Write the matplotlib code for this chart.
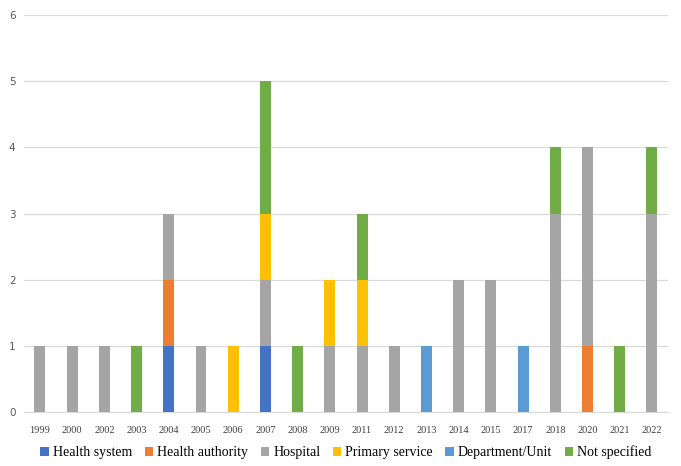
import numpy as np
import matplotlib.pyplot as plt

years = ['1999', '2000', '2002', '2003', '2004', '2005', '2006', '2007', '2008', '2009',
         '2011', '2012', '2013', '2014', '2015', '2017', '2018', '2020', '2021', '2022']

health_system    = [0, 0, 0, 0, 1, 0, 0, 1, 0, 0, 0, 0, 0, 0, 0, 0, 0, 0, 0, 0]
health_authority = [0, 0, 0, 0, 1, 0, 0, 0, 0, 0, 0, 0, 0, 0, 0, 0, 0, 1, 0, 0]
hospital         = [1, 1, 1, 0, 1, 1, 0, 1, 0, 1, 1, 1, 0, 2, 2, 0, 3, 3, 0, 3]
primary_service  = [0, 0, 0, 0, 0, 0, 1, 1, 0, 1, 1, 0, 0, 0, 0, 0, 0, 0, 0, 0]
department_unit  = [0, 0, 0, 0, 0, 0, 0, 0, 0, 0, 0, 0, 1, 0, 0, 1, 0, 0, 0, 0]
not_specified    = [0, 0, 0, 1, 0, 0, 0, 2, 1, 0, 1, 0, 0, 0, 0, 0, 1, 0, 1, 1]

series = [
    ('Health system', health_system, '#4472C4'),
    ('Health authority', health_authority, '#ED7D31'),
    ('Hospital', hospital, '#A5A5A5'),
    ('Primary service', primary_service, '#FFC000'),
    ('Department/Unit', department_unit, '#5B9BD5'),
    ('Not specified', not_specified, '#70AD47'),
]

serif = ['Liberation Serif', 'DejaVu Serif']

fig = plt.figure(figsize=(6.81, 4.66), dpi=100)
ax = fig.add_axes([0.035, 0.115, 0.946, 0.853])

x = np.arange(len(years))
bottom = np.zeros(len(years))
for name, vals, col in series:
    vals = np.array(vals, dtype=float)
    ax.bar(x, vals, 0.34, bottom=bottom, color=col, label=name, zorder=3)
    bottom += vals

ax.set_xlim(-0.5, len(years) - 0.5)
ax.set_ylim(0, 6)
ax.set_yticks(range(7))
ax.grid(axis='y', color='#D9D9D9', linewidth=0.9, zorder=0)
ax.set_xticks(x)
ax.set_xticklabels(years, fontfamily=serif, fontsize=7.5, color='#404040')
for lab in ax.get_yticklabels():
    lab.set_fontsize(7.5)
    lab.set_color('#595959')
ax.tick_params(axis='x', length=0, pad=10)
ax.tick_params(axis='y', length=0, pad=6)
for s in ['top', 'right', 'left']:
    ax.spines[s].set_visible(False)
ax.spines['bottom'].set_color('#D9D9D9')

leg = ax.legend(loc='upper center', bbox_to_anchor=(0.5, -0.052), ncol=6, frameon=False,
                prop={'family': serif, 'size': 10}, handlelength=0.6, handleheight=0.6,
                handletextpad=0.3, columnspacing=0.9)

fig.savefig('out.png', dpi=100)
